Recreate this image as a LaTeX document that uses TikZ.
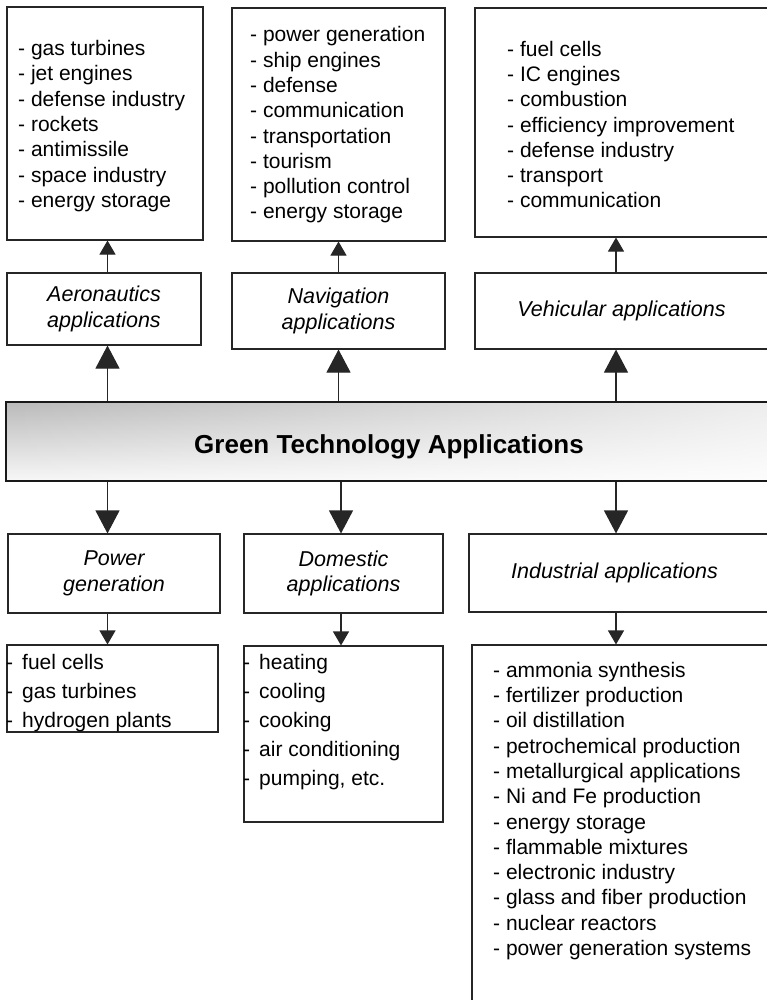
\documentclass[tikz,border=0pt]{standalone}
\usepackage{fontspec}
\setmainfont{Liberation Sans}
\usetikzlibrary{arrows.meta,fadings}
\begin{document}
\begin{tikzpicture}[x=1pt,y=-1pt,
  rbox/.style 2 args={draw=black!85, line width=1.1pt, fill=white, inner sep=0pt,
    minimum width=#1, minimum height=#2, align=center},
  applabel/.style={font=\fontsize{21.5}{25.5}\selectfont\itshape},
  listtxt/.style={anchor=west, align=left, inner sep=0pt, font=\fontsize{21}{25.3}\selectfont},
  listwide/.style={anchor=west, align=left, inner sep=0pt, font=\fontsize{21}{29}\selectfont},
  sarrow/.style={draw=black!85, line width=1.1pt, -{Triangle[length=14pt,width=16pt]}},
  barrow/.style={draw=black!85, line width=1.1pt, -{Triangle[length=23pt,width=24pt]}},
  banner/.style={draw=black!90, line width=1.6pt, inner sep=0pt,
    minimum width=766, minimum height=79, text height=28pt, text depth=5pt,
    top color=black!27, bottom color=black!3,
    path picture={\fill[white, path fading=west, fill opacity=0.75]
      (path picture bounding box.south west) rectangle (path picture bounding box.north east);},
    font=\fontsize{26}{30}\selectfont\bfseries}
]
\useasboundingbox (0,0) rectangle (767,1000);
\clip (0,0) rectangle (767,1000);

% top lists
\node[rbox={196}{233}] (t1) at (105,123.5) {};
\node[rbox={213}{233}] (t2) at (338.5,124.5) {};
\node[rbox={297}{229}] (t3) at (623.5,122.5) {};
\node[listtxt] (t1t) at (18,126) {- gas turbines\\- jet engines\\- defense industry\\- rockets\\- antimissile\\- space industry\\- energy storage};
\node[listtxt] (t2t) at (250,125) {- power generation\\- ship engines\\- defense\\- communication\\- transportation\\- tourism\\- pollution control\\- energy storage};
\node[listtxt] (t3t) at (507,124.5) {- fuel cells\\- IC engines\\- combustion\\- efficiency improvement\\- defense industry\\- transport\\- communication};

% application boxes (upper)
\node[rbox={194}{72}, applabel] (aero) at (104,309) {Aeronautics\\applications};
\node[rbox={213}{76}, applabel] (nav) at (338.5,311) {Navigation\\applications};
\node[rbox={297}{76}, applabel] (veh) at (623.5,311) {\hspace*{-4pt}Vehicular applications};

% banner
\node[banner] (green) at (389,441.5) {Green Technology Applications};

% application boxes (lower)
\node[rbox={212}{79}, applabel] (power) at (114,573.5) {Power\\generation};
\node[rbox={199}{79}, applabel] (dom) at (343.5,573.5) {Domestic\\applications};
\node[rbox={303}{78}, applabel] (ind) at (620.5,573) {\hspace*{-12pt}Industrial applications};

% lower lists
\node[rbox={211}{87}] (plist) at (112.5,688.5) {};
\node[rbox={199}{176}] (dlist) at (343.5,734) {};
\node[rbox={300}{365}] (ilist) at (622,827.5) {};
\node[listwide] (plt) at (6,693) {\makebox[16pt][l]{-}fuel cells\\\makebox[16pt][l]{-}gas turbines\\\makebox[16pt][l]{-}hydrogen plants};
\node[listwide] (dlt) at (243,722) {\makebox[16pt][l]{-}heating\\\makebox[16pt][l]{-}cooling\\\makebox[16pt][l]{-}cooking\\\makebox[16pt][l]{-}air conditioning\\\makebox[16pt][l]{-}pumping, etc.};
\node[listtxt] (ilt) at (493,811) {- ammonia synthesis\\- fertilizer production\\- oil distillation\\- petrochemical production\\- metallurgical applications\\- Ni and Fe production\\- energy storage\\- flammable mixtures\\- electronic industry\\- glass and fiber production\\- nuclear reactors\\- power generation systems};

% connector columns
\coordinate (c1) at (107.5,0);
\coordinate (c2u) at (338.5,0);
\coordinate (c2d) at (341,0);
\coordinate (c3) at (616,0);

% upward arrows
\draw[sarrow] (aero.north -| c1) -- (t1.south -| c1);
\draw[sarrow] (nav.north -| c2u) -- (t2.south -| c2u);
\draw[sarrow] (veh.north -| c3) -- (t3.south -| c3);
\draw[barrow] (green.north -| c1) -- (aero.south -| c1);
\draw[barrow] (green.north -| c2u) -- (nav.south -| c2u);
\draw[barrow] (green.north -| c3) -- (veh.south -| c3);

% downward arrows
\draw[barrow] (green.south -| c1) -- (power.north -| c1);
\draw[barrow] (green.south -| c2d) -- (dom.north -| c2d);
\draw[barrow] (green.south -| c3) -- (ind.north -| c3);
\draw[sarrow] (power.south -| c1) -- (plist.north -| c1);
\draw[sarrow] (dom.south -| c2d) -- (dlist.north -| c2d);
\draw[sarrow] (ind.south -| c3) -- (ilist.north -| c3);
\end{tikzpicture}
\end{document}
